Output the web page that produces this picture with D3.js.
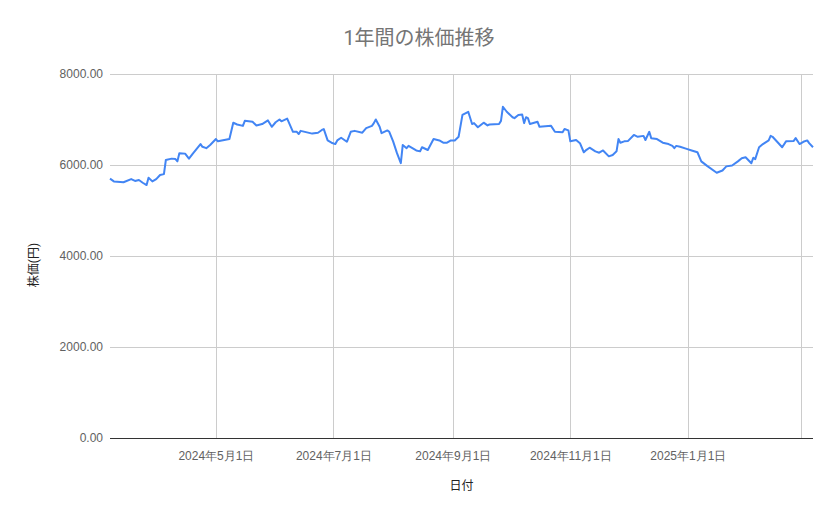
<!DOCTYPE html>
<html>
<head>
<meta charset="utf-8">
<script src="https://cdn.jsdelivr.net/npm/d3@7"></script>
<style>
  body { margin: 0; background: #fff; }
  svg { display: block; font-family: Roboto, "Noto Sans CJK JP", sans-serif; }
  .grid line { stroke: #cccccc; stroke-width: 1; shape-rendering: crispEdges; }
  .tick text { fill: #616161; font-size: 12px; }
</style>
</head>
<body>
<svg id="chart" width="839" height="519"></svg>
<script>
"use strict";
// dates (x position), prices in yen
var dates = [
  "2024-03-07","2024-03-09","2024-03-14","2024-03-18","2024-03-20","2024-03-22","2024-03-24","2024-03-26",
  "2024-03-27","2024-03-29","2024-03-31","2024-04-02","2024-04-04","2024-04-05","2024-04-08","2024-04-10",
  "2024-04-11","2024-04-12","2024-04-15","2024-04-17","2024-04-19","2024-04-23","2024-04-24","2024-04-26",
  "2024-04-28","2024-05-01","2024-05-02","2024-05-08","2024-05-10","2024-05-12","2024-05-15","2024-05-16",
  "2024-05-20","2024-05-22","2024-05-25","2024-05-28","2024-05-30","2024-06-01","2024-06-03","2024-06-04",
  "2024-06-07","2024-06-10","2024-06-12","2024-06-13","2024-06-14","2024-06-20","2024-06-23","2024-06-25",
  "2024-06-26","2024-06-28","2024-06-30","2024-07-02","2024-07-03","2024-07-05","2024-07-08","2024-07-10",
  "2024-07-12","2024-07-16","2024-07-18","2024-07-21","2024-07-22","2024-07-23","2024-07-25","2024-07-26",
  "2024-07-29","2024-07-30","2024-08-01","2024-08-03","2024-08-05","2024-08-06","2024-08-08","2024-08-09",
  "2024-08-13","2024-08-15","2024-08-16","2024-08-19","2024-08-22","2024-08-25","2024-08-27","2024-08-29",
  "2024-08-31","2024-09-02","2024-09-04","2024-09-06","2024-09-09","2024-09-11","2024-09-12","2024-09-14",
  "2024-09-17","2024-09-19","2024-09-20","2024-09-25","2024-09-26","2024-09-27","2024-09-29","2024-10-02",
  "2024-10-03","2024-10-05","2024-10-07","2024-10-08","2024-10-09","2024-10-10","2024-10-11","2024-10-15",
  "2024-10-16","2024-10-22","2024-10-24","2024-10-28","2024-10-29","2024-10-31","2024-11-01","2024-11-04",
  "2024-11-06","2024-11-08","2024-11-09","2024-11-11","2024-11-14","2024-11-16","2024-11-18","2024-11-21",
  "2024-11-23","2024-11-25","2024-11-26","2024-11-27","2024-11-29","2024-12-01","2024-12-04","2024-12-06",
  "2024-12-09","2024-12-10","2024-12-12","2024-12-13","2024-12-16","2024-12-19","2024-12-22","2024-12-24",
  "2024-12-25","2024-12-26","2024-12-28","2024-12-31","2025-01-03","2025-01-06","2025-01-08","2025-01-11",
  "2025-01-16","2025-01-19","2025-01-21","2025-01-24","2025-01-27","2025-01-29","2025-01-31","2025-02-03",
  "2025-02-04","2025-02-05","2025-02-07","2025-02-09","2025-02-12","2025-02-13","2025-02-14","2025-02-19",
  "2025-02-21","2025-02-25","2025-02-26","2025-02-28","2025-03-02","2025-03-04","2025-03-05","2025-03-07"
];
var prices = [
  5700,5640,5620,5690,5650,5670,5610,5560,
  5720,5640,5690,5780,5800,6110,6140,6130,
  6080,6260,6250,6140,6250,6460,6400,6370,
  6440,6570,6520,6570,6930,6890,6860,6970,
  6950,6870,6900,6980,6840,6940,7000,6960,
  7020,6730,6730,6680,6750,6690,6710,6770,
  6790,6540,6490,6460,6540,6600,6510,6730,
  6750,6710,6810,6860,6920,7000,6840,6700,
  6760,6730,6520,6260,6040,6440,6370,6420,
  6320,6300,6390,6330,6570,6540,6490,6490,
  6540,6540,6620,7100,7170,6900,6920,6830,
  6930,6870,6890,6900,6970,7280,7170,7050,
  7030,7100,7110,6920,7050,7030,6900,6950,
  6840,6860,6730,6720,6790,6760,6520,6550,
  6480,6280,6320,6380,6300,6270,6320,6190,
  6220,6300,6570,6490,6520,6530,6660,6620,
  6640,6550,6730,6590,6570,6490,6460,6420,
  6370,6420,6400,6360,6320,6280,6080,5980,
  5830,5880,5970,5990,6080,6150,6170,6040,
  6160,6130,6390,6460,6540,6640,6620,6390,
  6520,6530,6590,6460,6510,6540,6480,6390
];
var yTicks = [0, 2000, 4000, 6000, 8000];
var gridDates = ["2024-05-01","2024-07-01","2024-09-01","2024-11-01","2025-01-01","2025-03-01"];
var labelDates = ["2024-05-01","2024-07-01","2024-09-01","2024-11-01","2025-01-01"];
var title = "1年間の株価推移";
var xTitle = "日付";
var yTitle = "株価(円)";

var parse = d3.timeParse("%Y-%m-%d");
var data = dates.map(function(d, i) { return {date: parse(d), v: prices[i]}; });

var svg = d3.select("#chart"),
    margin = {top: 74, right: 26, bottom: 81, left: 110},
    width = 839 - margin.left - margin.right,
    height = 519 - margin.top - margin.bottom;

var x = d3.scaleTime()
  .domain(d3.extent(data, d => d.date))
  .range([0, width]);
var y = d3.scaleLinear().domain([0, 8000]).range([height, 0]);

var plot = svg.append("g")
  .attr("transform", "translate(" + margin.left + "," + margin.top + ")");

// horizontal grid + y labels
var yAxis = plot.append("g")
  .attr("class", "grid")
  .call(d3.axisLeft(y).tickValues(yTicks).tickSize(-width).tickPadding(7)
    .tickFormat(d => d3.format(".2f")(d)));
yAxis.select(".domain").remove();

// vertical grid lines
plot.append("g")
  .attr("class", "grid")
  .attr("transform", "translate(0," + height + ")")
  .call(d3.axisBottom(x).tickValues(gridDates.map(parse)).tickSize(-height).tickFormat(""))
  .select(".domain").remove();

// x labels
var fmt = function(d) {
  return d.getFullYear() + "年" + (d.getMonth() + 1) + "月" + d.getDate() + "日";
};
var xAxis = plot.append("g")
  .attr("transform", "translate(0," + height + ")")
  .call(d3.axisBottom(x).tickValues(labelDates.map(parse)).tickSize(0).tickPadding(13).tickFormat(fmt));
xAxis.select(".domain").remove();

// baseline
plot.append("line")
  .attr("x1", 0).attr("x2", width)
  .attr("y1", y(0)).attr("y2", y(0))
  .attr("stroke", "#333")
  .attr("stroke-width", 1)
  .attr("shape-rendering", "crispEdges");

// price line
plot.append("path")
  .datum(data)
  .attr("fill", "none")
  .attr("stroke", "#4285f4")
  .attr("stroke-width", 2)
  .attr("stroke-linejoin", "round")
  .attr("d", d3.line().x(d => x(d.date)).y(d => y(d.v)));

// titles
svg.append("text")
  .attr("x", 419).attr("y", 45)
  .attr("text-anchor", "middle")
  .attr("font-size", 20)
  .attr("fill", "#757575")
  .text(title);

svg.append("text")
  .attr("x", margin.left + width / 2).attr("y", 490)
  .attr("text-anchor", "middle")
  .attr("font-size", 12)
  .attr("fill", "#222")
  .text(xTitle);

svg.append("text")
  .attr("transform", "translate(38,265) rotate(-90)")
  .attr("text-anchor", "middle")
  .attr("font-size", 12)
  .attr("fill", "#222")
  .text(yTitle);
</script>
</body>
</html>
